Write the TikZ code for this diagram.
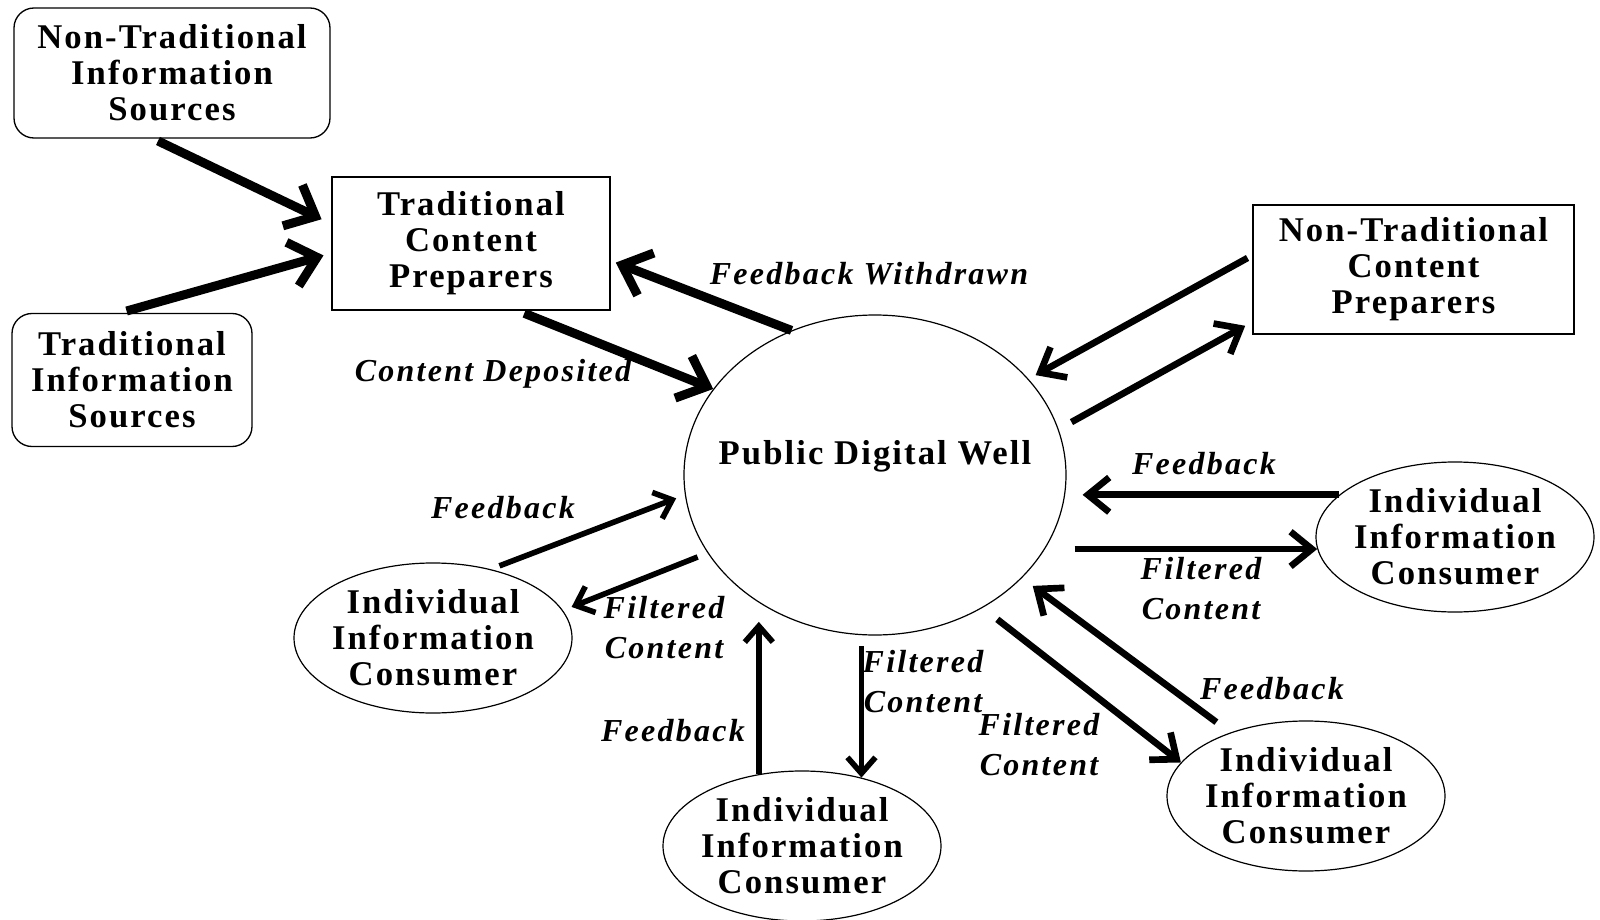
\documentclass[tikz,border=0pt]{standalone}
\usepackage{fontspec}
\setmainfont{Liberation Serif}
\newfontfamily\boxfont{Liberation Serif}[LetterSpace=6]
\newfontfamily\lblfont{Liberation Serif}[LetterSpace=7]
\usetikzlibrary{arrows.meta,shapes.geometric}

\tikzset{every picture/.style={line width=0.75pt}}
\tikzset{
  boxtxt/.style={align=center, font=\boxfont\bfseries\fontsize{26}{27}\selectfont},
  lbl/.style={align=center, font=\lblfont\bfseries\itshape\fontsize{24}{30}\selectfont},
  srcbox/.style={boxtxt, draw, rounded corners=15pt, line width=1pt},
  prepbox/.style={boxtxt, draw, line width=1.2pt},
  well/.style={ellipse, draw, line width=0.9pt, minimum width=286.5pt, minimum height=240pt, inner sep=0pt},
  consumer/.style={ellipse, draw, line width=0.9pt, minimum width=208.5pt, minimum height=112.5pt, inner sep=0pt},
  bigarr/.style={line width=6.75pt, -{Straight Barb[length=19pt,width=34pt]}},
  arr/.style={line width=5pt, -{Straight Barb[length=16pt,width=26pt]}},
  thinarr/.style={line width=4.2pt, -{Straight Barb[length=12pt,width=21pt]}}
}

\begin{document}
\begin{tikzpicture}[x=0.75pt,y=0.75pt,yscale=-1,xscale=1]
\useasboundingbox (0,0) rectangle (1600,920); %diagram is 1600 x 920

%Shape: Rounded Rect
\node[srcbox, minimum width=237pt, minimum height=97.5pt] (ntis) at (172,73) {Non-Traditional\\Information\\Sources};
%Shape: Rounded Rect
\node[srcbox, minimum width=180pt, minimum height=99.75pt] (tis) at (132,380) {Traditional\\Information\\Sources};
%Shape: Rectangle
\node[prepbox, minimum width=208.5pt, minimum height=99.75pt] (tcp) at (471,243.5) {Traditional\\Content\\Preparers};
%Shape: Rectangle
\node[prepbox, minimum width=240.75pt, minimum height=96.75pt] (ntcp) at (1413.5,269.5) {Non-Traditional\\Content\\Preparers};

%Shape: Ellipse
\node[well] (well) at (875,475) {};
\node[boxtxt] (welltxt) at (875,456) {Public Digital Well};
%Shape: Ellipse
\node[consumer] (cl) at (433,638) {};
\node[boxtxt] (cltxt) at (cl) {Individual\\Information\\Consumer};
%Shape: Ellipse
\node[consumer] (cr) at (1455,537) {};
\node[boxtxt] (crtxt) at (cr) {Individual\\Information\\Consumer};
%Shape: Ellipse
\node[consumer] (cb) at (802,846) {};
\node[boxtxt] (cbtxt) at (cb) {Individual\\Information\\Consumer};
%Shape: Ellipse
\node[consumer] (cbr) at (1306,796) {};
\node[boxtxt] (cbrtxt) at (cbr) {Individual\\Information\\Consumer};

%Straight Lines
\draw[bigarr, shorten <=4pt, shorten >=8pt] (ntis.254) -- (tcp.172);
\draw[bigarr, shorten <=5pt, shorten >=6pt] (tis.100) -- (tcp.184);
\draw[bigarr, shorten >=4pt] (well.120) -- (tcp.-7);
\draw[bigarr, shorten <=5pt] (tcp.-55) -- (well.152);
%Straight Lines
\draw[arr, shorten <=4pt, shorten >=6pt] (ntcp.175) -- (well.32);
\draw[arr, shorten <=11pt, shorten >=6pt] (well.14) -- (ntcp.198);
%Straight Lines
\draw[arr, shorten >=12pt] (cr.160) -- (well.east |- cr.160);
\draw[arr, shorten <=6pt] (well.east |- cr.185) -- (cr.185);
%Straight Lines
\draw[thinarr, shorten <=7pt, shorten >=7pt] (cl.50) -- (well.186);
\draw[thinarr, shorten <=8pt, shorten >=7pt] (well.205) -- (cl.12);
%Straight Lines
\draw[thinarr, shorten >=14pt] (cb.121) -- (cb.121 |- well.228);
\draw[thinarr, shorten <=8pt] (well.south -| cb.49) -- (cb.49);
%Straight Lines
\draw[arr, shorten <=14pt] (well.-51) -- (cbr.165);
\draw[arr, shorten <=13pt, shorten >=10pt] (cbr.140) -- (well.-35);

% Text Node
\node[lbl] (fw) at (869,274) {Feedback Withdrawn};
% Text Node
\node[lbl] (cd) at (493,374) {Content Deposited};
% Text Node
\node[lbl] (fbr) at (1204,464) {Feedback};
% Text Node
\node[lbl] (fcr) at (1201,589) {Filtered\\Content};
% Text Node
\node[lbl] (fbl) at (503,508) {Feedback};
% Text Node
\node[lbl] (fcl) at (664,628) {Filtered\\Content};
% Text Node
\node[lbl] (fbb) at (673,731) {Feedback};
% Text Node
\node[lbl] (fcb) at (923,682) {Filtered\\Content};
% Text Node
\node[lbl] (fcbr) at (1039,745) {Filtered\\Content};
% Text Node
\node[lbl] (fbbr) at (1272,689) {Feedback};

\end{tikzpicture}
\end{document}
